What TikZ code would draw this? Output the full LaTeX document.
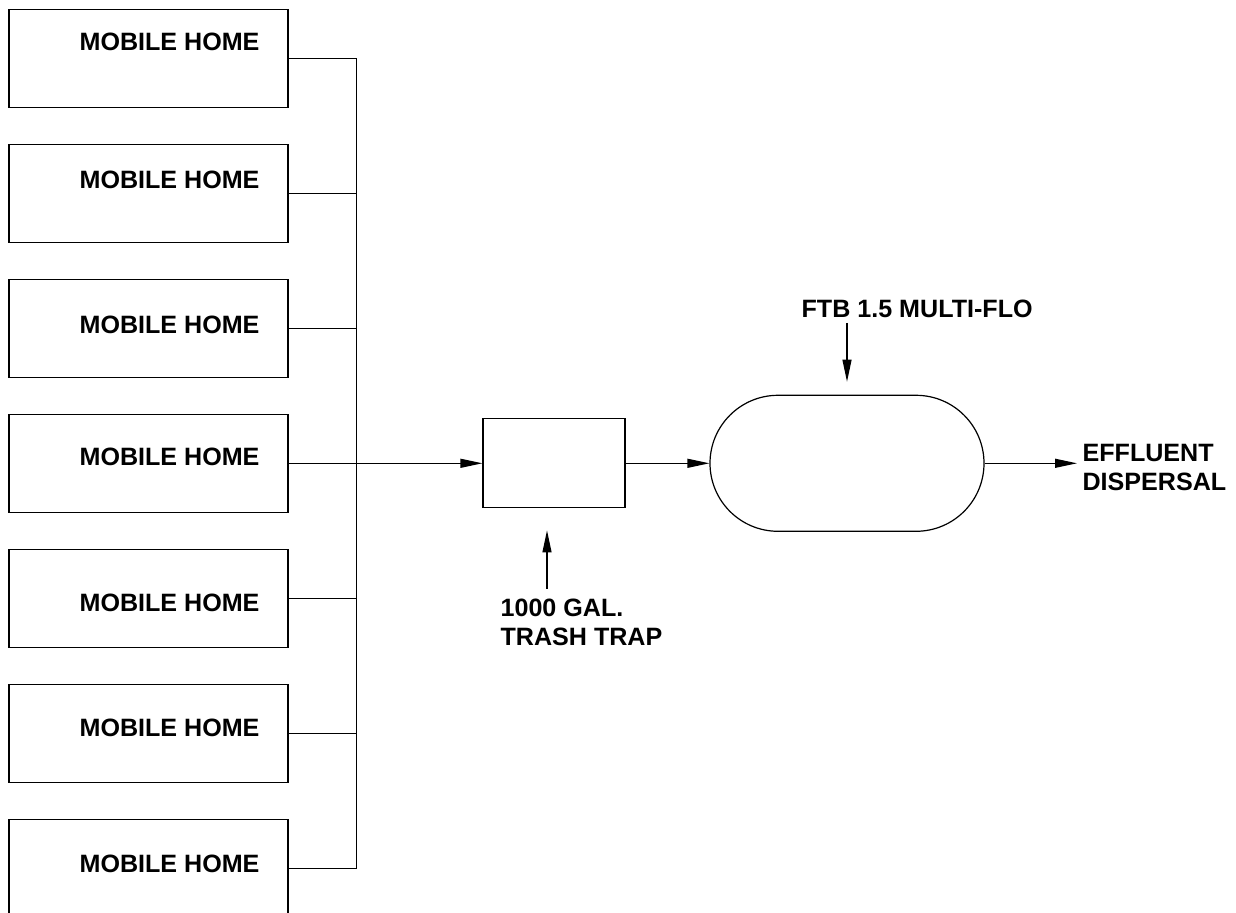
\documentclass[tikz,border=0pt]{standalone}
\usepackage{fontspec}
\setmainfont{Liberation Sans}
\usetikzlibrary{arrows.meta}

\begin{document}
\begin{tikzpicture}[x=0.5pt, y=-0.5pt, line width=0.6pt, font=\fontsize{12.55}{14.5}\selectfont\bfseries]
              \tikzstyle{home} = [draw=black, minimum width=139.5pt, minimum height=49pt, inner sep=0pt]
              \tikzstyle{homelabel} = [anchor=base west, inner sep=0pt]
              \tikzstyle{tank} = [draw=black, inner sep=0pt]
              \tikzstyle{tag} = [align=left, anchor=base west, inner sep=0pt]
              \tikzstyle{flow} = [-{Triangle[length=11pt, width=4.5pt]}]

              \useasboundingbox (0,0) rectangle (1236,913);

              \coordinate (bus) at (356.5, 0);

              \foreach \i / \dy in {1/41, 2/44, 3/54, 4/51, 5/62, 6/52, 7/53} {%
                \node[home] (box\i) at (148.5, {135*\i - 76.7}) {};
                \node[homelabel] (name\i) at (79, {135*\i - 125.7 + \dy}) {MOBILE HOME};
              }
              \foreach \i in {1, 2, 3, 5, 6, 7} {%
                \draw (box\i.east) -- (box\i.east -| bus);
              }
              \draw (box1.east -| bus) -- (box7.east -| bus);

              \node[tank, minimum width=71pt, minimum height=44.5pt] (trap) at (554, 463.3) {};
              \node[tank, rounded corners=34pt, minimum width=137pt, minimum height=68pt] (filter) at (847, 463.3) {};
              \coordinate (outlet) at (1077, 463.3);

              \draw[flow] (box4.east) -- (trap.west);
              \draw[flow] (trap.east) -- (filter.west);
              \draw[flow] (filter.east) -- (outlet);

              \node[tag] (traptag) at (500, 646) {1000 GAL.\\TRASH TRAP};
              \node[tag] (filtertag) at (801, 318) {FTB 1.5 MULTI-FLO};
              \node[tag] (outtag) at (1082, 490.5) {EFFLUENT\\DISPERSAL};

              \coordinate (trapfoot) at (547, 589);
              \coordinate (filterfoot) at (847, 323);
              \draw[flow, shorten >=11pt] (trapfoot) -- (trapfoot |- trap.south);
              \draw[flow, shorten >=6.5pt] (filterfoot) -- (filter.north);

            \end{tikzpicture}
\end{document}
